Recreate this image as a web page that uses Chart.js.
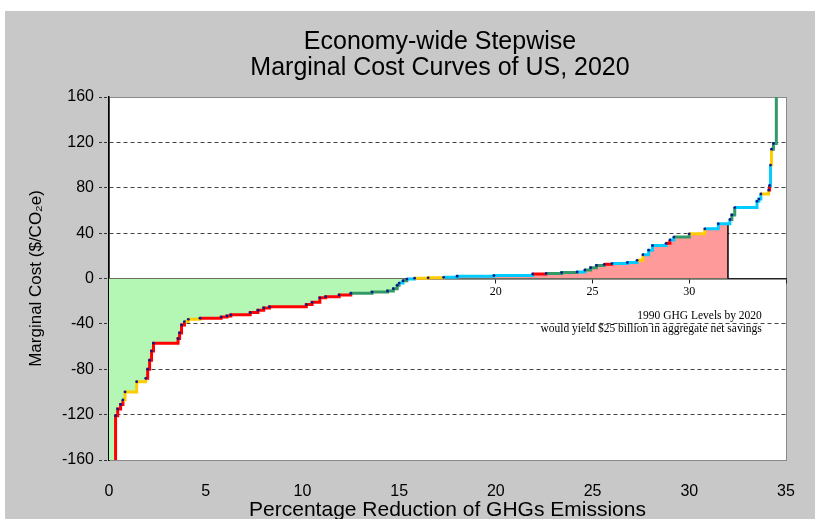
<!DOCTYPE html>
<html>
<head>
<meta charset="utf-8">
<script src="https://cdn.jsdelivr.net/npm/chart.js@4.4.0/dist/chart.umd.min.js"></script>
<style>
  html, body { margin: 0; padding: 0; background: #fff; }
</style>
</head>
<body>
<canvas id="graph" width="815" height="519"></canvas>
<script>
// step curve: each point starts a step (x = % reduction, y = $/tCO2e)
var stepX = [0, 0.34, 0.45, 0.6, 0.72, 0.83, 1.43, 1.9, 2.0, 2.1, 2.2, 2.3, 3.57, 3.65, 3.75,
  3.9, 4.1, 4.7, 5.8, 6.1, 6.3, 7.3, 7.7, 8.0, 8.3, 10.2, 10.5, 10.9, 11.2, 11.9,
  12.5, 13.6, 14.4, 14.7, 14.9, 15.0, 15.2, 15.4, 15.8, 16.5, 17.3, 18.0, 19.9, 21.9, 22.6,
  23.4, 24.2, 24.6, 24.9, 25.2, 25.6, 26.0, 26.8, 27.3, 27.6, 27.9, 28.1, 28.8, 29.0, 29.2,
  30.0, 30.8, 31.5, 32.1, 32.2, 32.35, 33.5, 33.6, 33.7, 34.1, 34.15, 34.2, 34.25, 34.35, 34.5];
var stepY = [-300, -121, -115, -111, -107, -100, -91, -88, -80, -72, -64, -57, -53, -48, -41,
  -38, -36, -35, -34, -33, -32, -30, -28, -26, -25, -23, -21, -17, -16, -14.5,
  -13, -12, -11, -9, -6, -4, -2, -0.5, 0.3, 0.6, 1.0, 2.0, 2.6, 4.0, 4.5,
  5.2, 5.8, 7.5, 9.5, 11.5, 12.5, 13.2, 14.0, 16, 21, 25, 29, 31, 34, 36.5,
  39.4, 43.8, 48.2, 52, 56, 62.5, 68, 70, 74.5, 78, 82, 100, 114, 119, 200];
// sector code for each step (r, y, g, c)
var stepSector = 'rrrryyyrrrrrrrryyrrrrrrrrrrrrrgggggcgcyycccrggcgggrccycccrcgyccggcccyrcyggg'.split('');

var savingsCutoff = 32;   // % reduction giving 1990 levels
var xTicks = [0, 5, 10, 15, 20, 25, 30, 35];
var innerLabels = [20, 25, 30];
var titleLines = ['Economy-wide Stepwise', 'Marginal Cost Curves of US, 2020'];
var noteLines = ['1990 GHG Levels by 2020', 'would yield $25 billion in aggregate net savings'];

var sectorColors = { r: '#ff0000', y: '#ffcc00', g: '#339966', c: '#00ccff' };
var SANS = '"Liberation Sans", Arial, sans-serif';
var SERIF = '"Liberation Serif", "Times New Roman", serif';

var curve = stepX.map(function (x, i) { return { x: x, y: stepY[i] }; });

// fill area stops at the cutoff
var fillPts = curve.filter(function (p) { return p.x < savingsCutoff; });
var cutY = fillPts[fillPts.length - 1].y;
fillPts.push({ x: savingsCutoff, y: cutY });

var backdrop = {
  id: 'backdrop',
  beforeDraw: function (chart) {
    var ctx = chart.ctx, a = chart.chartArea;
    ctx.save();
    ctx.fillStyle = '#ffffff';
    ctx.fillRect(0, 0, chart.width, chart.height);
    ctx.fillStyle = '#c8c8c8';
    ctx.fillRect(5, 11, chart.width - 5, chart.height - 11);
    ctx.fillStyle = '#ffffff';
    ctx.fillRect(a.left, a.top, a.right - a.left, a.bottom - a.top);
    ctx.strokeStyle = '#8a8a8a';
    ctx.lineWidth = 1;
    ctx.strokeRect(a.left + 0.5, a.top + 0.5, a.right - a.left, a.bottom - a.top);

    ctx.fillStyle = '#000';
    ctx.font = '25px ' + SANS;
    ctx.textAlign = 'center';
    ctx.textBaseline = 'alphabetic';
    ctx.fillText(titleLines[0], 440, 49);
    ctx.fillText(titleLines[1], 440, 75);
    ctx.restore();
  },
  afterDraw: function (chart) {
    var ctx = chart.ctx;
    var xs = chart.scales.x, ys = chart.scales.y;
    ctx.save();
    ctx.fillStyle = '#000';
    ctx.font = '11.5px ' + SERIF;
    ctx.textAlign = 'right';
    ctx.textBaseline = 'alphabetic';
    var rx = xs.getPixelForValue(33.75);
    ctx.fillText(noteLines[0], rx, ys.getPixelForValue(-36));
    ctx.fillText(noteLines[1], rx, ys.getPixelForValue(-47));
    ctx.restore();
  }
};

new Chart(document.getElementById('graph').getContext('2d'), {
  type: 'scatter',
  data: {
    datasets: [
      {
        label: 'fill',
        data: fillPts,
        showLine: true,
        stepped: 'before',
        borderWidth: 0,
        borderColor: 'transparent',
        pointRadius: 0,
        fill: { target: { value: 0 }, above: '#ff9a9a', below: '#b4f7b4' },
        order: 3
      },
      {
        label: 'cutoff',
        data: [{ x: savingsCutoff, y: 0 }, { x: savingsCutoff, y: cutY }],
        showLine: true,
        borderColor: '#000',
        borderWidth: 1.5,
        pointRadius: 0,
        order: 2
      },
      {
        label: 'curve',
        data: curve,
        showLine: true,
        stepped: 'before',
        borderWidth: 3,
        borderColor: '#ff0000',
        segment: {
          borderColor: function (c) { return sectorColors[stepSector[c.p0DataIndex]] || '#ff0000'; }
        },
        pointRadius: 1.4,
        pointBorderWidth: 0,
        pointBackgroundColor: '#0a1a8c',
        order: 1
      }
    ]
  },
  options: {
    responsive: false,
    animation: false,
    layout: { padding: { top: 97, right: 29, bottom: 0, left: 0 } },
    plugins: {
      legend: { display: false },
      tooltip: { enabled: false }
    },
    scales: {
      x: {
        type: 'linear',
        position: 'bottom',
        min: 0,
        max: 35,
        afterBuildTicks: function (s) { s.ticks = xTicks.map(function (v) { return { value: v }; }); },
        afterFit: function (s) { s.height = 59; },
        ticks: { font: { family: SANS, size: 16 }, color: '#000', padding: 14, maxRotation: 0 },
        grid: { display: false },
        border: { color: '#8a8a8a', width: 1 },
        title: {
          display: true,
          text: 'Percentage Reduction of GHGs Emissions',
          font: { family: SANS, size: 21 },
          color: '#000',
          padding: { top: 0, bottom: -4 }
        }
      },
      x2: {
        type: 'linear',
        position: { y: 0 },
        min: 0,
        max: 35,
        afterBuildTicks: function (s) { s.ticks = xTicks.map(function (v) { return { value: v }; }); },
        ticks: {
          font: { family: SERIF, size: 12 },
          color: '#000',
          padding: 2,
          maxRotation: 0,
          callback: function (v) { return innerLabels.indexOf(v) >= 0 ? String(v) : ''; }
        },
        grid: { drawOnChartArea: false, tickLength: 4, color: '#222' },
        border: { color: '#222', width: 1.5 }
      },
      y: {
        type: 'linear',
        min: -160,
        max: 160,
        afterFit: function (s) { s.width = 109; },
        ticks: { stepSize: 40, font: { family: SANS, size: 16 }, color: '#000', padding: 5 },
        grid: {
          color: function (c) { return Math.abs(c.tick.value) % 160 === 0 ? 'transparent' : '#444'; },
          tickColor: '#333',
          tickLength: 10,
          tickBorderDash: [3, 2],
          lineWidth: 1
        },
        border: { color: '#000', width: 1.5, dash: [4, 3] },
        title: {
          display: true,
          text: 'Marginal Cost ($/CO\u2082e)',
          font: { family: SANS, size: 17 },
          color: '#000',
          padding: { top: 26, bottom: 0 }
        }
      }
    }
  },
  plugins: [backdrop]
});
</script>
</body>
</html>
